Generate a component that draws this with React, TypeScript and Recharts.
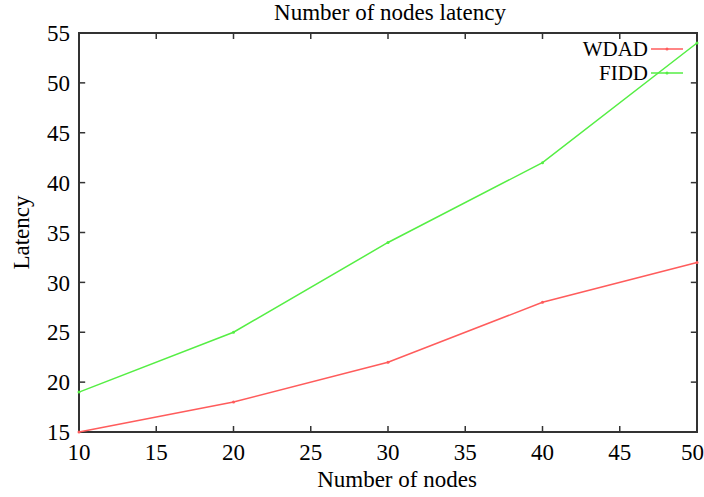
import { LineChart, Line, XAxis, YAxis, Label, ReferenceArea, ReferenceLine } from 'recharts'

const nodes = [10, 20, 30, 40, 50]
const wdad = [15, 18, 22, 28, 32]
const fidd = [19, 25, 34, 42, 54]
const xTicks = [10, 15, 20, 25, 30, 35, 40, 45, 50]
const yTicks = [15, 20, 25, 30, 35, 40, 45, 50, 55]

const series = [
  { name: 'WDAD', values: wdad, color: '#ff5c5c' },
  { name: 'FIDD', values: fidd, color: '#55ee44' },
]

const data = nodes.map((n, i) => ({ nodes: n, WDAD: wdad[i], FIDD: fidd[i] }))

const font = '"Liberation Serif", "DejaVu Serif", serif'
const axisColor = '#333'
const fs = 23
const textStyle = { fill: '#000', fontSize: fs, fontFamily: font }

// tick length in data units (~6px)
const xTickLen = 0.4
const yTickLen = 0.6

export default function App() {
  return (
    <div style={{ position: 'absolute', left: 0, top: 0, width: 704, height: 497, background: '#fff' }}>
      <div
        style={{
          position: 'absolute',
          top: 1,
          left: 79,
          width: 622,
          textAlign: 'center',
          fontFamily: font,
          fontSize: fs,
          lineHeight: `${fs}px`,
          color: '#000',
        }}
      >
        Number of nodes latency
      </div>
      <LineChart width={704} height={497} data={data} margin={{ top: 33, right: 7, bottom: 0, left: 0 }}>
        <XAxis
          dataKey="nodes"
          type="number"
          domain={[10, 50]}
          ticks={xTicks}
          height={65}
          tickSize={0}
          tickMargin={12}
          axisLine={false}
          tickLine={false}
          tick={textStyle}
        >
          <Label value="Number of nodes" position="insideBottom" offset={10} dx={9} style={textStyle} />
        </XAxis>
        <YAxis
          type="number"
          domain={[15, 55]}
          ticks={yTicks}
          width={79}
          tickSize={0}
          tickMargin={9}
          axisLine={false}
          tickLine={false}
          tick={textStyle}
        >
          <Label
            value="Latency"
            angle={-90}
            position="insideLeft"
            offset={21}
            style={{ ...textStyle, textAnchor: 'middle' }}
          />
        </YAxis>
        {xTicks.map((t) => (
          <ReferenceLine
            key={'xb' + t}
            segment={[{ x: t, y: 15 }, { x: t, y: 15 + yTickLen }]}
            stroke={axisColor}
            strokeWidth={1.5}
          />
        ))}
        {xTicks.map((t) => (
          <ReferenceLine
            key={'xt' + t}
            segment={[{ x: t, y: 55 }, { x: t, y: 55 - yTickLen }]}
            stroke={axisColor}
            strokeWidth={1.5}
          />
        ))}
        {yTicks.map((t) => (
          <ReferenceLine
            key={'yl' + t}
            segment={[{ x: 10, y: t }, { x: 10 + xTickLen, y: t }]}
            stroke={axisColor}
            strokeWidth={1.5}
          />
        ))}
        {yTicks.map((t) => (
          <ReferenceLine
            key={'yr' + t}
            segment={[{ x: 50, y: t }, { x: 50 - xTickLen, y: t }]}
            stroke={axisColor}
            strokeWidth={1.5}
          />
        ))}
        <ReferenceArea x1={10} x2={50} y1={15} y2={55} fill="none" stroke={axisColor} strokeWidth={2} />
        {series.map((s) => (
          <Line
            key={s.name}
            dataKey={s.name}
            stroke={s.color}
            strokeWidth={1.5}
            dot={{ r: 1.5, fill: s.color, stroke: 'none' }}
            isAnimationActive={false}
          />
        ))}
      </LineChart>
      <div style={{ position: 'absolute', top: 37, right: 19, fontFamily: font, fontSize: 21, color: '#000' }}>
        {series.map((s) => (
          <div
            key={s.name}
            style={{ display: 'flex', alignItems: 'center', justifyContent: 'flex-end', height: 24, lineHeight: '24px' }}
          >
            <span>{s.name}</span>
            <svg width={34} height={10} style={{ marginLeft: 3 }}>
              <line x1={0} y1={5} x2={32} y2={5} stroke={s.color} strokeWidth={1.5} />
              <circle cx={16} cy={5} r={1.5} fill={s.color} />
            </svg>
          </div>
        ))}
      </div>
    </div>
  )
}
